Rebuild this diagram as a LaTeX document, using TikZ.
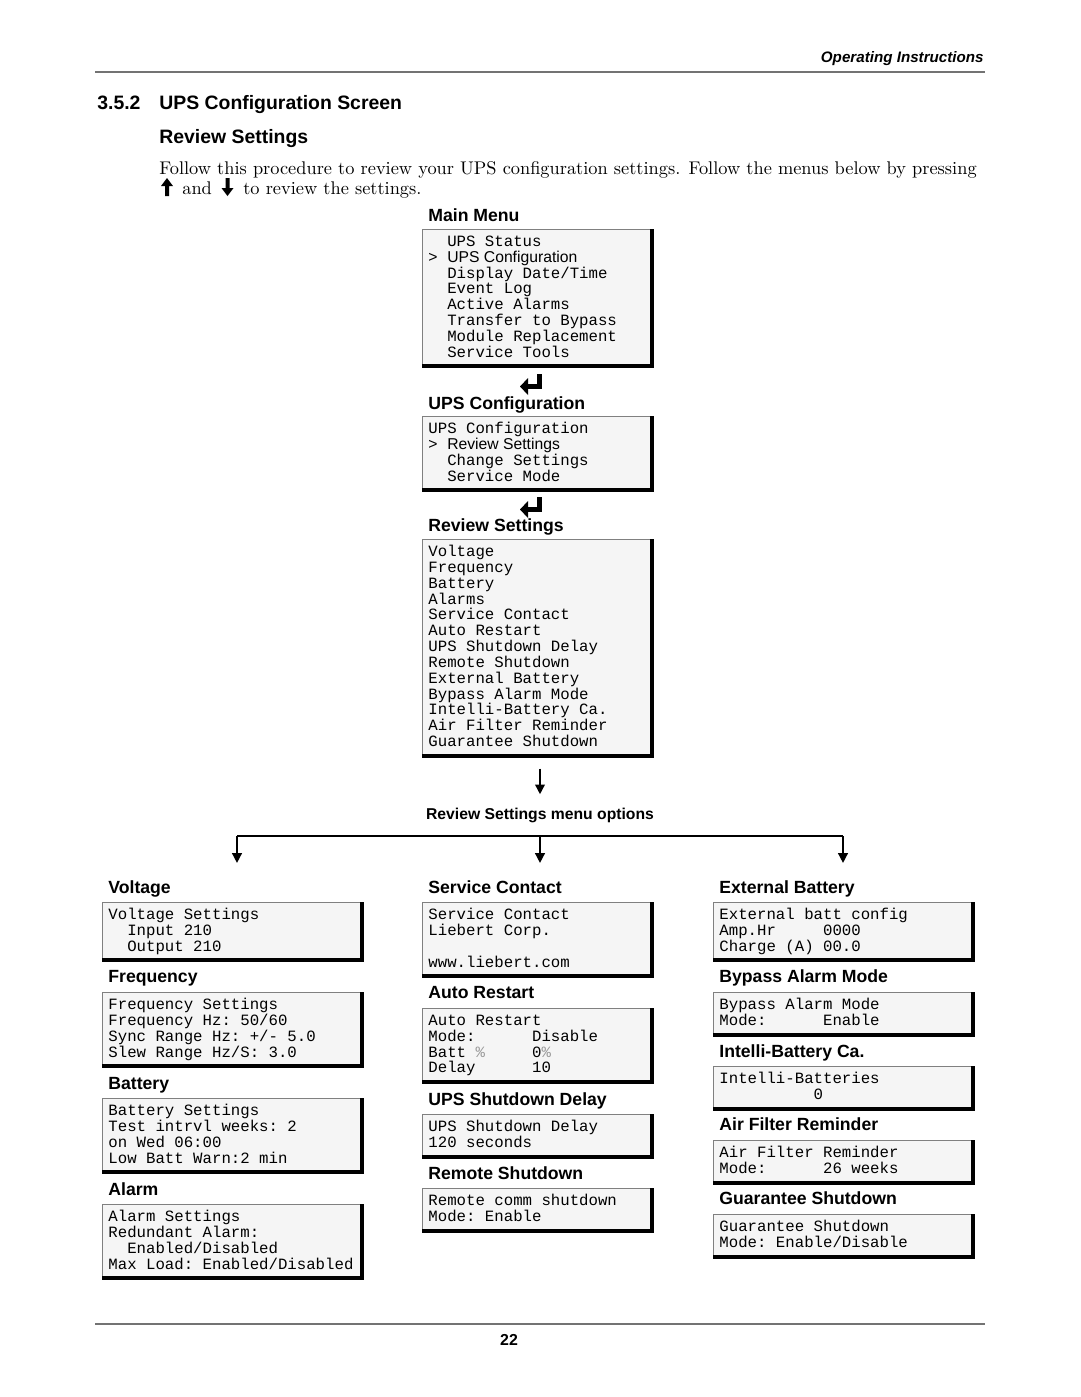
\documentclass[tikz,border=0pt]{standalone}
\usepackage{fontspec}
\setsansfont{Liberation Sans}
\setmonofont{Liberation Mono}
\usetikzlibrary{arrows.meta,positioning}

\newlength\colw
\setlength\colw{5.34pt}
\newcommand\ind[1]{\hspace*{#1\colw}}
\newcommand\cell[2]{\makebox[#1\colw][l]{#2}}
\newcommand\selitem[1]{\makebox[2\colw][l]{\sffamily >}{\sffamily\spaceskip=0pt\xspaceskip=0pt #1}}
\newcommand\pct{{\color{black!40}\%}}

\tikzset{
  head/.style   = {font=\sffamily\bfseries\fontsize{10}{12}\selectfont, inner sep=0pt, anchor=base west},
  sec/.style    = {font=\sffamily\bfseries\fontsize{11}{13}\selectfont, inner sep=0pt, anchor=base west},
  body/.style   = {font=\fontsize{10.4}{12}\selectfont, inner sep=0pt, anchor=base west},
  screen/.style = {draw=black!50, fill=black!4, line width=0.5pt, anchor=north west,
                   align=left, inner xsep=3.4pt, inner ysep=3.3pt,
                   font=\ttfamily\fontsize{8.9}{8.97}\selectfont,
                   execute at begin node={\lineskiplimit=-5pt\spaceskip=\colw\xspaceskip=\colw\strut},
                   execute at end node=\strut},
  wide/.style   = {screen, text width=141pt},
  narrow/.style = {screen, text width=124pt},
  ledge/.style  = {line width=2.2pt},
  flow/.style   = {line width=0.85pt, -{Triangle[width=5.5pt,length=5.5pt]}},
  rule/.style   = {draw=black!55, line width=0.8pt},
  enterkey/.pic = {
    \fill (7,-11) rectangle (12,4);
    \fill (-3,-1) rectangle (12,4);
    \fill (-10,1.5) -- (-2,-7) -- (-2,10) -- cycle;
  },
  keyarrow/.pic = {
    \fill (0,-9) -- (6,-1) -- (2,-1) -- (2,9) -- (-2,9) -- (-2,-1) -- (-6,-1) -- cycle;
  }
}

\begin{document}
\begin{tikzpicture}[x=0.5667pt, y=-0.5667pt]
\useasboundingbox[fill=white] (0,0) rectangle (1080,1397);

% running head and foot
\node[font=\sffamily\bfseries\itshape\fontsize{8.6}{10}\selectfont, inner sep=0pt, anchor=base east] (runhead) at (984,62) {Operating Instructions};
\draw[rule] (95,72) -- (985,72);
\draw[rule] (95,1324) -- (985,1324);
\node[font=\sffamily\bfseries\fontsize{9}{10}\selectfont, inner sep=0pt, anchor=base] (pageno) at (509,1345) {22};

% section text
\node[sec] (secno) at (97,109) {3.5.2};
\node[sec] (sectitle) at (159,109) {UPS Configuration Screen};
\node[sec] (subtitle) at (159,143) {Review Settings};
\node[body] (intro) at (159,174) {Follow this procedure to review your UPS configuration settings. Follow the menus below by pressing};
\pic at (167,187) {keyarrow};
\node[body] (andw) at (182,194) {and};
\pic[rotate=180] at (227.5,187) {keyarrow};
\node[body] (restw) at (243,194) {to review the settings.};

% menu path
\node[head] (tmain) at (428,221) {Main Menu};
\node[narrow] (smain) at (422,229) {\ind{2}UPS Status\\ \selitem{UPS Configuration}\\ \ind{2}Display Date/Time\\ \ind{2}Event Log\\ \ind{2}Active Alarms\\ \ind{2}Transfer to Bypass\\ \ind{2}Module Replacement\\ \ind{2}Service Tools};
\pic at (530,385) {enterkey};
\node[head] (tcfg) at (428,409) {UPS Configuration};
\node[narrow] (scfg) at (422,416) {UPS Configuration\\ \selitem{Review Settings}\\ \ind{2}Change Settings\\ \ind{2}Service Mode};
\pic at (530,508) {enterkey};
\node[head] (trev) at (428,531) {Review Settings};
\node[narrow] (srev) at (422,539) {Voltage\\ Frequency\\ Battery\\ Alarms\\ Service Contact\\ Auto Restart\\ UPS Shutdown Delay\\ Remote Shutdown\\ External Battery\\ Bypass Alarm Mode\\ Intelli-Battery Ca.\\ Air Filter Reminder\\ Guarantee Shutdown};
\node[head, anchor=base, font=\sffamily\bfseries\fontsize{8.9}{10}\selectfont] (topts) at (540,819) {Review Settings menu options};

% left column
\node[head] (tvolt) at (108,893) {Voltage};
\node[wide] (svolt) at (102,902) {Voltage Settings\\ \ind{2}Input 210\\ \ind{2}Output 210};
\node[head] (tfreq) at (108,982) {Frequency};
\node[wide] (sfreq) at (102,992) {Frequency Settings\\ Frequency Hz: 50/60\\ Sync Range Hz: +/- 5.0\\ Slew Range Hz/S: 3.0};
\node[head] (tbatt) at (108,1089) {Battery};
\node[wide] (sbatt) at (102,1098) {Battery Settings\\ Test intrvl weeks: 2\\ on Wed 06:00\\ Low Batt Warn:2 min};
\node[head] (talarm) at (108,1195) {Alarm};
\node[wide] (salarm) at (102,1204) {Alarm Settings\\ Redundant Alarm:\\ \ind{2}Enabled/Disabled\\ Max Load: Enabled/Disabled};

% middle column
\node[head] (tsvc) at (428,893) {Service Contact};
\node[narrow] (ssvc) at (422,902) {Service Contact\\ Liebert Corp.\\ \mbox{}\\ www.liebert.com};
\node[head] (tauto) at (428,998) {Auto Restart};
\node[narrow] (sauto) at (422,1008) {Auto Restart\\ \cell{11}{Mode:}Disable\\ \cell{11}{Batt \pct}0\pct\\ \cell{11}{Delay}10};
\node[head] (tdelay) at (428,1105) {UPS Shutdown Delay};
\node[narrow] (sdelay) at (422,1114) {UPS Shutdown Delay\\ 120 seconds};
\node[head] (tremote) at (428,1179) {Remote Shutdown};
\node[narrow] (sremote) at (422,1188) {Remote comm shutdown\\ Mode: Enable};

% right column
\node[head] (textb) at (719,893) {External Battery};
\node[wide] (sextb) at (713,902) {External batt config\\ \cell{11}{Amp.Hr}0000\\ Charge (A) 00.0};
\node[head] (tbyp) at (719,982) {Bypass Alarm Mode};
\node[wide] (sbyp) at (713,992) {Bypass Alarm Mode\\ \cell{11}{Mode:}Enable};
\node[head] (tintel) at (719,1057) {Intelli-Battery Ca.};
\node[wide] (sintel) at (713,1066) {Intelli-Batteries\\ \ind{10}0};
\node[head] (tair) at (719,1130) {Air Filter Reminder};
\node[wide] (sair) at (713,1140) {Air Filter Reminder\\ \cell{11}{Mode:}26 weeks};
\node[head] (tguar) at (719,1204) {Guarantee Shutdown};
\node[wide] (sguar) at (713,1214) {Guarantee Shutdown\\ Mode: Enable/Disable};

% heavy right and bottom edges of the screens
\foreach \s in {smain,scfg,srev,svolt,sfreq,sbatt,salarm,ssvc,sauto,sdelay,sremote,sextb,sbyp,sintel,sair,sguar}
  \draw[ledge] ([xshift=-1.1pt]\s.north east) |- ([yshift=1.1pt]\s.south west);

% arrows
\draw[flow, shorten <=6.2pt, shorten >=7.4pt] (topts.north |- srev.south) -- (topts.north);
\coordinate (bl) at (237,836);
\coordinate (bm) at (540,836);
\coordinate (br) at (843,836);
\draw[line width=0.85pt] (bl) -- (br);
\foreach \c/\t in {bl/tvolt, bm/tsvc, br/textb}
  \draw[flow, shorten >=9.6pt] (\c) -- (\c |- \t.north);
\end{tikzpicture}
\end{document}
